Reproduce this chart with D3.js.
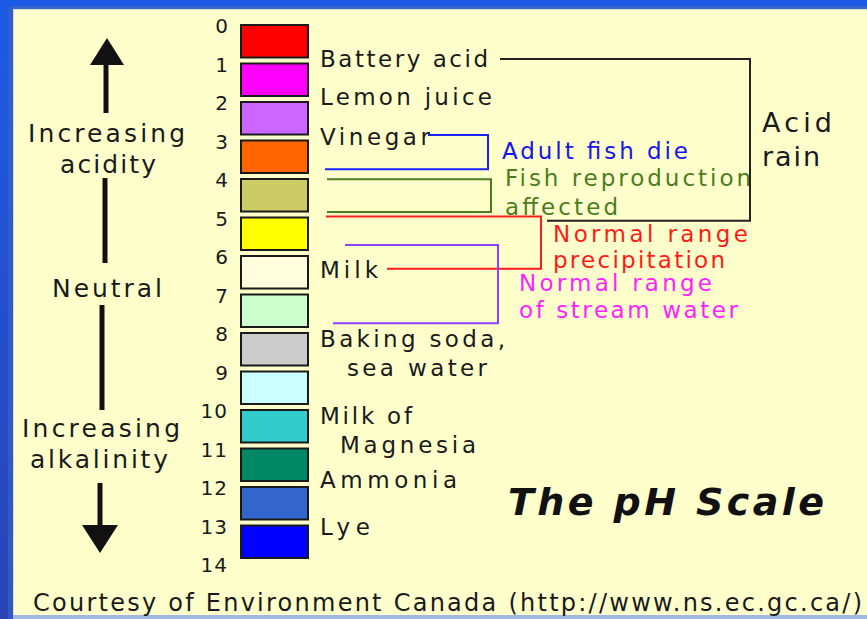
<!DOCTYPE html>
<meta charset="utf-8">
<style>
body { margin: 0; background: #ffffcc; }
svg { display: block; font-family: "DejaVu Sans", Verdana, sans-serif; }
</style>
<svg width="867" height="619"></svg>
<script src="https://cdn.jsdelivr.net/npm/d3@7"></script>
<script>

// pH scale, one swatch per unit step
var phTicks = d3.range(0, 15);
var swatchColors = ["#ff0000", "#ff00ff", "#cc66ff", "#ff6600", "#cccc66", "#ffff00", "#ffffdd",
                    "#ccffcc", "#cccccc", "#ccffff", "#33cccc", "#008866", "#3366cc", "#0000ff"];

// substances and the pH they are written at
var substances = [["Battery acid"], ["Lemon juice"], ["Vinegar"], ["Milk"],
                  ["Baking soda,", "sea water"], ["Milk of", "Magnesia"], ["Ammonia"], ["Lye"]];
var substancePh = [0.9, 1.9, 2.93, 6.4, 8.56, 10.55, 11.85, 13.07];

// ranges shown with brackets
var rangeNames = ["Adult fish die", "Fish reproduction affected", "Normal range precipitation",
                  "Normal range of stream water", "Acid rain"];
var rangeLabels = [["Adult fish die"], ["Fish reproduction", "affected"], ["Normal range", "precipitation"],
                   ["Normal range", "of stream water"], ["Acid", "rain"]];
var rangeFrom = [2.88, 4.03, 5.0, 5.74, 0.91];
var rangeTo = [3.77, 4.88, 6.36, 7.77, 5.11];

var direction = [["Increasing", "acidity"], ["Neutral"], ["Increasing", "alkalinity"]];
var title = "The pH Scale";
var credit = "Courtesy of Environment Canada (http://www.ns.ec.gc.ca/)";

// ---------- layout ----------
var W = 867, H = 619;
var svg = d3.select("svg");
var y = d3.scaleLinear().domain([0, 14]).range([24, 563]);

var subLayout = [ // x and width of each line
  [[320, 168]], [[320, 172]], [[320, 110]], [[320, 58]],
  [[320, 185], [347, 140]], [[320, 92], [340, 136]], [[320, 137]], [[320, 50]]
];
var rangeLayout = [
  {color: "#1a22ff", vx: 488, top: 428, bot: 325, text: "#1515ee", tx: 502, tph: 3.51, lh: 27, w: [186], size: 23},
  {color: "#4b7d20", vx: 491, top: 327, bot: 327, text: "#4b7d20", tx: 505, tph: 4.21, lh: 29, w: [246, 113], size: 23},
  {color: "#ff1a1a", vx: 541, top: 326, bot: 387, text: "#ff1a1a", tx: 553, tph: 5.66, lh: 26, w: [195, 172], size: 23},
  {color: "#9040ff", vx: 498, top: 345, bot: 333, text: "#ff22ff", tx: 519, tph: 6.94, lh: 27, w: [193, 219], size: 23},
  {color: "#222222", vx: 750, top: 500, bot: 547, text: "#1a1a1a", tx: 762, tph: 2.81, lh: 34, w: [70, 58], size: 27}
];
var dirLayout = [
  [[28, 142, 157], [60, 173, 96]],
  [[52, 297, 110]],
  [[22, 437, 158], [30, 468, 138]]
];

// ---------- frame ----------
var defs = svg.append("defs");
var lg = defs.append("linearGradient").attr("id", "side").attr("x1", 0).attr("y1", 0).attr("x2", 0).attr("y2", 1);
lg.append("stop").attr("offset", "0%").attr("stop-color", "#1b5be6");
lg.append("stop").attr("offset", "100%").attr("stop-color", "#2a44b4");

svg.append("rect").attr("width", W).attr("height", H).attr("fill", "#ffffcc");
svg.append("rect").attr("width", W).attr("height", 9).attr("fill", "#1b5be6");
svg.append("rect").attr("x", 8).attr("y", 6).attr("width", W).attr("height", 3).attr("fill", "#3a68cf");
svg.append("rect").attr("width", 13).attr("height", H).attr("fill", "url(#side)");
svg.append("rect").attr("x", 8).attr("y", 6).attr("width", 5).attr("height", H).attr("fill", "#3a60c4").attr("opacity", 0.7);
svg.append("rect").attr("x", 13).attr("y", 9).attr("width", W).attr("height", 1).attr("fill", "#d6dec6");
svg.append("rect").attr("x", 13).attr("y", 9).attr("width", 1).attr("height", H).attr("fill", "#d6dec6");
svg.append("rect").attr("x", 13).attr("y", 615).attr("width", W).attr("height", 4).attr("fill", "#9fb8e2");

// ---------- arrows on the left ----------
var ink = "#111";
svg.append("path").attr("fill", ink)
  .attr("d", "M107,38 L90,65 L124,65 Z");
svg.append("path").attr("fill", ink)
  .attr("d", "M82,525 L118,525 L100,553 Z");
[[106, 64, 113], [105, 178, 263], [102, 305, 410], [100, 483, 526]].forEach(function(s) {
  svg.append("line").attr("x1", s[0]).attr("x2", s[0]).attr("y1", s[1]).attr("y2", s[2])
    .attr("stroke", ink).attr("stroke-width", 5);
});

direction.forEach(function(lines, i) {
  lines.forEach(function(t, j) {
    var l = dirLayout[i][j];
    svg.append("text").attr("x", l[0]).attr("y", l[1]).attr("font-size", 25).attr("fill", "#1a1a1a")
      .attr("textLength", l[2]).attr("lengthAdjust", "spacing").text(t);
  });
});

// ---------- swatches and numbers ----------
svg.append("g").selectAll("rect")
  .data(swatchColors)
  .enter().append("rect")
    .attr("x", 241)
    .attr("y", function(d, i) { return y(i) + 1; })
    .attr("width", 67)
    .attr("height", function(d, i) { return y(i + 1) - y(i) - 6; })
    .attr("fill", function(d) { return d; })
    .attr("stroke", "#1a1a1a")
    .attr("stroke-width", 2);

svg.append("g").selectAll("text")
  .data(phTicks)
  .enter().append("text")
    .attr("x", 228)
    .attr("y", function(d) { return y(d) + 9; })
    .attr("text-anchor", "end")
    .attr("font-size", 20)
    .attr("letter-spacing", function(d) { return d > 9 ? 1 : 0; })
    .attr("fill", "#1a1a1a")
    .text(function(d) { return d; });

// ---------- substance labels ----------
substances.forEach(function(lines, i) {
  var n = lines.length, lh = 29;
  lines.forEach(function(t, j) {
    var l = subLayout[i][j];
    svg.append("text")
      .attr("x", l[0])
      .attr("y", y(substancePh[i]) + 8 + (j - (n - 1) / 2) * lh)
      .attr("font-size", 23).attr("fill", "#1a1a1a")
      .attr("textLength", l[1]).attr("lengthAdjust", "spacing")
      .text(t);
  });
});

// ---------- range labels, then brackets on top ----------
rangeNames.forEach(function(name, i) {
  var L = rangeLayout[i];
  rangeLabels[i].forEach(function(t, j) {
    svg.append("text")
      .attr("x", L.tx)
      .attr("y", y(L.tph) + j * L.lh)
      .attr("font-size", L.size).attr("fill", L.text)
      .attr("textLength", L.w[j]).attr("lengthAdjust", "spacing")
      .text(t);
  });
});

rangeNames.forEach(function(name, i) {
  var L = rangeLayout[i];
  svg.append("path")
    .attr("fill", "none").attr("stroke", L.color).attr("stroke-width", 2)
    .attr("d", "M" + L.top + "," + y(rangeFrom[i]) + " H" + L.vx + " V" + y(rangeTo[i]) + " H" + L.bot);
});

// ---------- title and credit ----------
svg.append("text").attr("x", 508).attr("y", 515)
  .attr("font-weight", "bold").attr("font-style", "italic")
  .attr("font-size", 38).attr("fill", "#111")
  .attr("textLength", 316).attr("lengthAdjust", "spacing")
  .text(title);

svg.append("text").attr("x", 33).attr("y", 611)
  .attr("font-size", 24).attr("fill", "#1a1a1a")
  .attr("textLength", 829).attr("lengthAdjust", "spacing")
  .text(credit);

</script>
